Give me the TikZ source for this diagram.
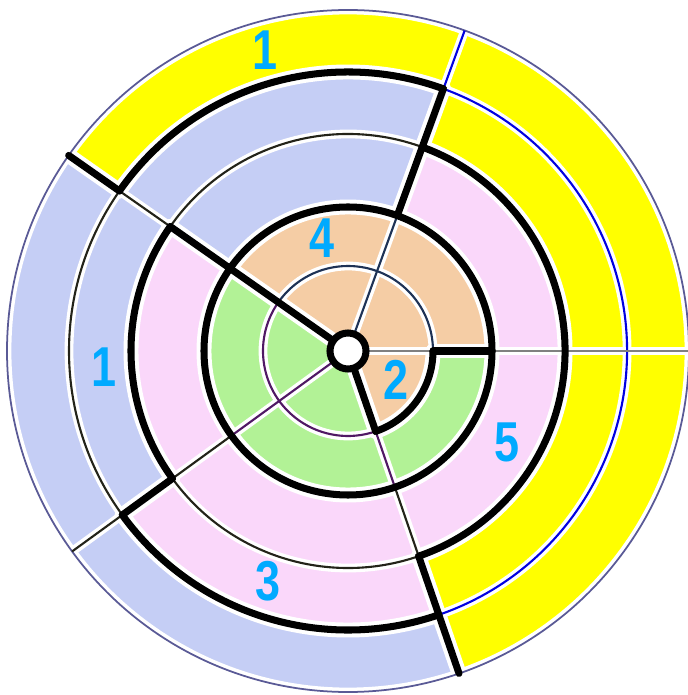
\documentclass[tikz,border=0pt]{standalone}
\usepackage{fontspec}
\setmainfont{Liberation Sans}
\usepackage{xcolor}
\definecolor{ringyellow}{RGB}{255,255,0}
\definecolor{ringblue}{RGB}{197,206,245}
\definecolor{ringpink}{RGB}{250,215,250}
\definecolor{ringorange}{RGB}{245,205,165}
\definecolor{ringgreen}{RGB}{178,242,150}
\definecolor{digitblue}{RGB}{0,170,255}
\definecolor{navyline}{RGB}{30,50,85}
\definecolor{purpleline}{RGB}{80,25,100}
\definecolor{rimblue}{RGB}{0,0,225}
\definecolor{rimgray}{RGB}{90,90,150}
\definecolor{darkline}{RGB}{35,35,25}

\begin{document}
\begin{tikzpicture}[x=0.02cm,y=0.02cm,
    thickline/.style={black,line width=4pt,line cap=round},
    thindark/.style={darkline,line width=1.2pt},
    thinnavy/.style={navyline,line width=1.2pt},
    thinpurple/.style={purpleline,line width=1.2pt},
    thinblue/.style={rimblue,line width=1.2pt},
    thingray/.style={gray,line width=1.2pt},
    rim/.style={rimgray,line width=1pt},
    halo/.style={white,line width=#1,line cap=round},
    digit/.style={text=digitblue,xscale=0.8,inner sep=0pt,font=\fontsize{32}{32}\selectfont\bfseries}]
    \useasboundingbox (-348,-344) rectangle (339,351);
    % ring sectors: inner radius / outer radius / start angle / end angle / colour
    \foreach \ri/\ro/\a/\b/\c in {18/144/0/145/ringorange,18/85/-71/0/ringorange,
        18/144/145/289/ringgreen,85/144/-71/0/ringgreen,
        144/217/145/216/ringpink,144/279/216/289/ringpink,144/217/-71/70/ringpink,
        144/279/70/145/ringblue,217/341/145/216/ringblue,279/341/216/289/ringblue,
        279/341/70/145/ringyellow,217/341/-71/70/ringyellow} {
      \fill[\c] (\a:\ri) arc[start angle=\a,end angle=\b,radius=\ri]
        -- (\b:\ro) arc[start angle=\b,end angle=\a,radius=\ro] -- cycle;
    }
    % arcs: radius/start/end/style, radials: angle/from/to/style
    \def\thinarcs{85/0/145/thinnavy,85/145/289/thinpurple,217/70/145/thindark,
      217/216/289/thindark,279/145/216/thindark,279/-71/70/thinblue,341/0/360/rim}
    \def\thickarcs{85/-71/0/thickline,144/0/360/thickline,217/145/216/thickline,
      217/-71/70/thickline,279/70/145/thickline,279/216/289/thickline}
    \def\thinrays{0/18/85/thingray,0/144/341/thingray,70/18/144/thinnavy,
      70/279/341/thinblue,145/217/279/thindark,216/18/144/thinpurple,
      216/144/217/thindark,216/279/341/thindark,289/85/144/thinpurple,289/144/217/thindark}
    \def\thickrays{0/85/144/thickline,70/144/279/thickline,145/18/217/thickline,
      145/279/341/thickline,216/217/279/thickline,289/18/85/thickline,289/217/341/thickline}
    % white edges along every line
    \foreach \r/\a/\b/\s in \thinarcs {\draw[halo=5pt] (\a:\r) arc[start angle=\a,end angle=\b,radius=\r];}
    \foreach \r/\a/\b/\s in \thickarcs {\draw[halo=8.5pt] (\a:\r) arc[start angle=\a,end angle=\b,radius=\r];}
    \foreach \t/\p/\q/\s in \thinrays {\draw[halo=5pt] (\t:\p) -- (\t:\q);}
    \foreach \t/\p/\q/\s in \thickrays {\draw[halo=8.5pt] (\t:\p) -- (\t:\q);}
    % the lines themselves, thick ones last
    \foreach \r/\a/\b/\s in \thinarcs {\draw[\s] (\a:\r) arc[start angle=\a,end angle=\b,radius=\r];}
    \foreach \t/\p/\q/\s in \thinrays {\draw[\s] (\t:\p) -- (\t:\q);}
    \foreach \r/\a/\b/\s in \thickarcs {\draw[\s] (\a:\r) arc[start angle=\a,end angle=\b,radius=\r];}
    \foreach \t/\p/\q/\s in \thickrays {\draw[\s] (\t:\p) -- (\t:\q);}
    % centre hole
    \filldraw[thickline,fill=white] (0,0) circle (18);
    % Labels
    \node[digit] (topone) at (-83,301) {1};
    \node[digit] (leftone) at (-244,-16) {1};
    \node[digit] (four) at (-26,113) {4};
    \node[digit] (two) at (48,-29) {2};
    \node[digit] (five) at (159,-91) {5};
    \node[digit] (three) at (-80,-230) {3};
\end{tikzpicture}
\end{document}
